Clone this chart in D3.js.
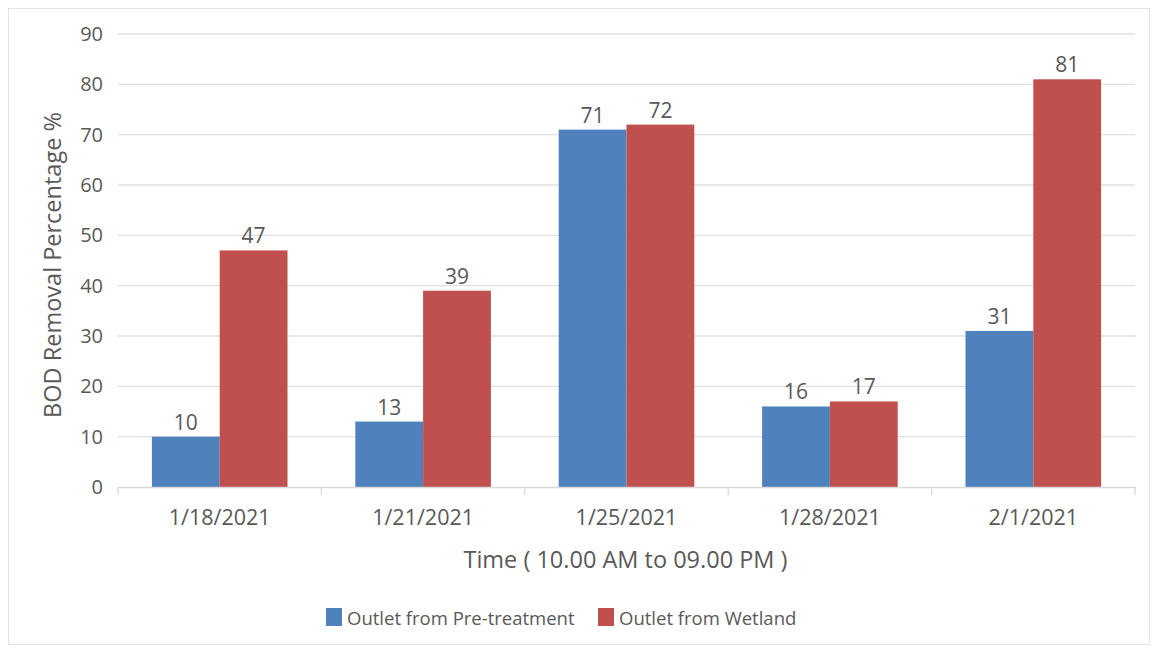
<!DOCTYPE html>
<html><head><meta charset="utf-8">
<script src="https://cdn.jsdelivr.net/npm/d3@7"></script>
<style>body{margin:0;background:#fff}svg{display:block}text{font-family:"Open Sans",sans-serif;fill:#595959}</style>
</head><body>
<svg id="c" width="1156" height="650"></svg>
<script>
const categories = ["1/18/2021","1/21/2021","1/25/2021","1/28/2021","2/1/2021"];
const seriesNames = ["Outlet from Pre-treatment","Outlet from Wetland"];
const pretreatment = [10,13,71,16,31];
const wetland = [47,39,72,17,81];
const yTicks = [0,10,20,30,40,50,60,70,80,90];
const colors = ["#4F81BD","#C0504D"];

(function(){
const svg = d3.select("#c");
svg.append("rect").attr("x",8.5).attr("y",8.5).attr("width",1141).attr("height",636)
  .attr("fill","#fff").attr("stroke","#e3e3e3");

const pL=118, pR=1135, pT=34, pB=487;
const x = d3.scaleBand().domain(categories).range([pL,pR]).paddingInner(0.3333).paddingOuter(0.1667);
const xb = d3.scaleBand().domain(categories).range([pL,pR]);
const xs = d3.scaleBand().domain([0,1]).range([0,x.bandwidth()]);
const y = d3.scaleLinear().domain([0,90]).range([pB,pT]);

// gridlines
svg.append("g").selectAll("line").data(yTicks.filter(d=>d>0)).join("line")
  .attr("x1",pL).attr("x2",pR).attr("y1",d=>y(d)).attr("y2",d=>y(d))
  .attr("stroke","#e0e0e0").attr("stroke-width",1.3);

// y axis labels
const ya = svg.append("g").attr("transform",`translate(${pL},0)`)
  .call(d3.axisLeft(y).tickValues(yTicks).tickSize(0).tickPadding(15));
ya.select(".domain").remove();
ya.selectAll("text").attr("font-size",20).attr("fill","#595959").style("font-family","'Open Sans',sans-serif");

// bars
const data = categories.map((c,i)=>({c,vals:[pretreatment[i],wetland[i]]}));
const g = svg.append("g").selectAll("g").data(data).join("g").attr("transform",d=>`translate(${x(d.c)},0)`);
g.selectAll("rect").data(d=>d.vals.map((v,j)=>({v,j}))).join("rect")
  .attr("x",d=>xs(d.j)).attr("width",xs.bandwidth()).attr("y",d=>y(d.v)).attr("height",d=>y(0)-y(d.v))
  .attr("fill",d=>colors[d.j]);
g.selectAll("text").data(d=>d.vals.map((v,j)=>({v,j}))).join("text")
  .attr("x",d=>xs(d.j)+xs.bandwidth()/2).attr("y",d=>y(d.v)-7)
  .attr("text-anchor","middle").attr("font-size",21).text(d=>d.v);

// x axis
const xa = svg.append("g").attr("transform",`translate(0,${pB})`)
  .call(d3.axisBottom(xb).tickSize(0).tickPadding(22));
xa.select(".domain").attr("stroke","#d9d9d9").attr("stroke-width",1.3);
xa.selectAll("text").attr("font-size",21.5).attr("dy",null).attr("y",38).attr("fill","#595959").style("font-family","'Open Sans',sans-serif");
const bounds = categories.map(c=>xb(c)).concat([pR]);
svg.append("g").selectAll("line").data(bounds).join("line")
  .attr("x1",d=>d).attr("x2",d=>d).attr("y1",pB).attr("y2",pB+8)
  .attr("stroke","#d9d9d9").attr("stroke-width",1.3);

// titles
svg.append("text").attr("x",(pL+pR)/2 - 1).attr("y",568).attr("text-anchor","middle")
  .attr("font-size",23.5).text("Time ( 10.00 AM to 09.00 PM )");
svg.append("text").attr("transform","translate(61,265) rotate(-90)").attr("text-anchor","middle")
  .attr("font-size",23.5).text("BOD Removal Percentage %");

// legend
const leg = svg.append("g");
const legX=[326,598];
seriesNames.forEach((n,i)=>{
  leg.append("rect").attr("x",legX[i]).attr("y",608).attr("width",16).attr("height",18).attr("fill",colors[i]);
  leg.append("text").attr("x",legX[i]+21).attr("y",625).attr("font-size",18.5).text(n);
});
})();
</script>
</body></html>
